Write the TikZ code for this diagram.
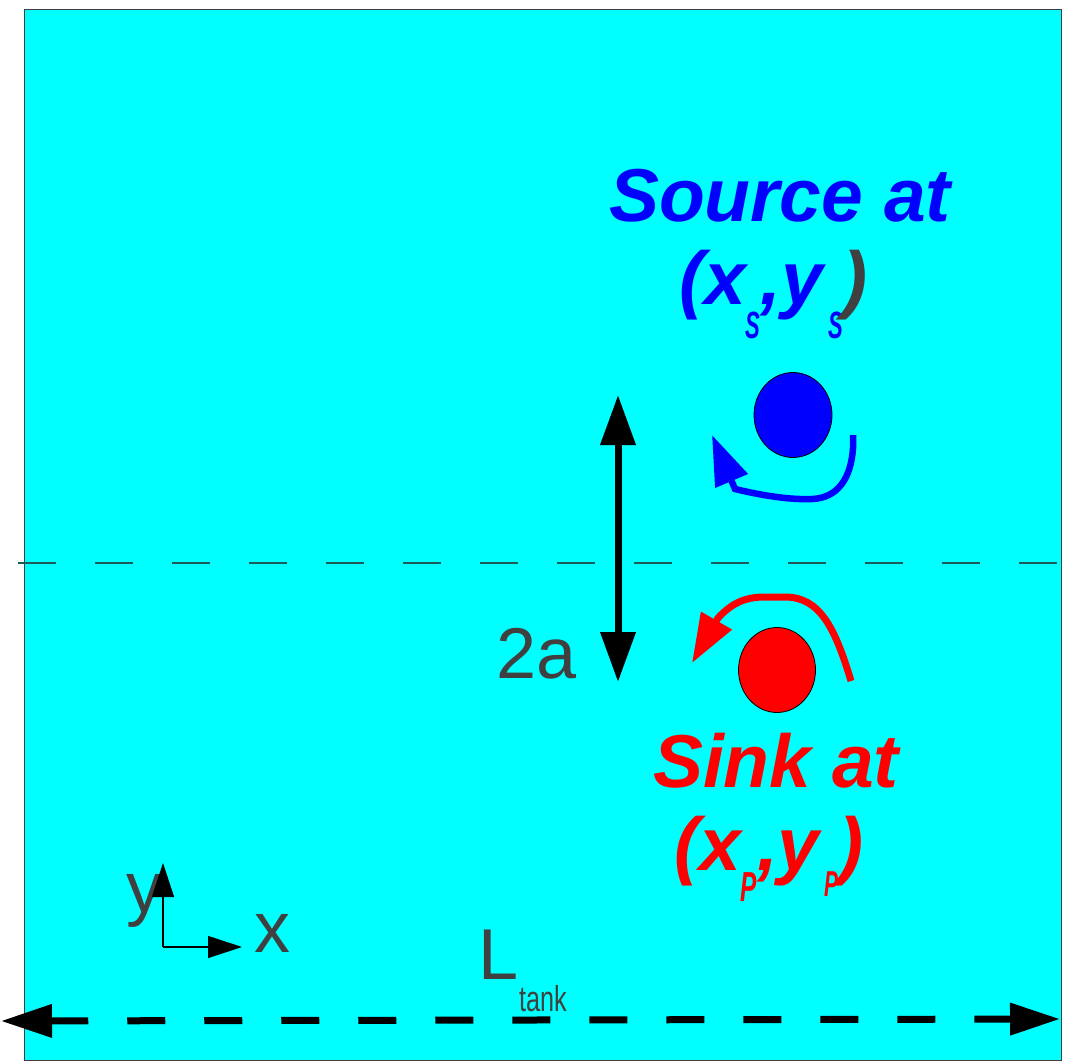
\documentclass[tikz,border=0pt]{standalone}
\usepackage{fontspec}
\setmainfont{Liberation Sans}
\usetikzlibrary{arrows.meta,shapes.geometric}
\definecolor{aqua}{RGB}{0,255,255}
\definecolor{txtgray}{RGB}{64,64,64}
\definecolor{dashteal}{RGB}{30,90,90}
\newcommand{\lowtxt}[3]{\raisebox{-#2pt}{\scalebox{0.58}[1]{\fontsize{#3}{#3}\selectfont\bfseries\itshape #1}}}
\tikzset{
  bigtxt/.style={inner sep=0pt, font=\fontsize{75}{75}\selectfont\bfseries\itshape},
  graytxt/.style={inner sep=0pt, text=txtgray, font=\fontsize{72}{72}\selectfont},
  blob/.style={ellipse, draw=black, line width=0.8pt, inner sep=0pt, minimum width=78pt, minimum height=85pt}
}
\begin{document}
\begin{tikzpicture}[x=1pt,y=-1pt]
\fill[white] (0,0) rectangle (1091,1064);
\useasboundingbox (0,0) rectangle (1091,1064);
% tank
\draw[fill=aqua, draw=txtgray, line width=1pt] (24,10) rectangle (1061,1060);
% centre dashed line
\coordinate (dL) at (18,563);
\coordinate (dR) at (1060,563);
\draw[dashteal, line width=1.2pt, dash pattern=on 38pt off 39pt] (dL) -- (dR);
% source and sink
\node[blob, fill=blue] (source) at (793,415) {};
\node[blob, fill=red, minimum width=77pt] (sink) at (777,670) {};
% texts
\node[bigtxt, text=blue, anchor=base] (srcT) at (780,222) {Source at};
\node[bigtxt, text=blue, anchor=base west] (srcC) at (679,305) {(x\lowtxt{S}{33}{38},y\kern5pt\lowtxt{S}{33}{38}\textcolor{txtgray}{)}};
\node[bigtxt, text=red, anchor=base] (snkT) at (776,787) {Sink at};
\node[bigtxt, text=red, anchor=base west] (snkC) at (674,870) {(x\lowtxt{P}{31}{42},y\kern5pt\lowtxt{P}{26}{36})};
\node[graytxt, anchor=base west] (twoA) at (496,678) {2a};
\node[graytxt, anchor=base west] (xlab) at (254,952) {x};
\node[graytxt, anchor=base west] (ylab) at (126,912) {y};
\node[graytxt, anchor=base west] (Llab) at (478,979) {L};
\node[inner sep=0pt, text=txtgray, anchor=base west] (tank) at (519,1011) {\scalebox{0.7}[1]{\fontsize{36}{36}\selectfont tank}};
% 2a arrow
\coordinate (aTop) at (618,395);
\coordinate (aBot) at (618,682);
\draw[line width=7pt, {Triangle[length=50pt,width=34pt]}-{Triangle[length=50pt,width=34pt]}] (aTop) -- (aBot);
% bottom L_tank arrow
\coordinate (bL) at (1,1021);
\coordinate (bR) at (1060,1019);
\draw[line width=7pt, dash pattern=on 38pt off 39pt, {Triangle[length=51pt,width=32pt]}-{Triangle[length=50pt,width=31pt]}] (bL) -- (bR);
% axes
\coordinate (orig) at (163,947);
\coordinate (yTip) at (163,863);
\coordinate (xTip) at (242,947);
\draw[line width=1.2pt, -{Triangle[length=34pt,width=22pt]}] (orig) -- (yTip);
\draw[line width=1.2pt, -{Triangle[length=34pt,width=22pt]}] (orig) -- (xTip);
% blue circulation arrow
\coordinate (bS) at (853,435);
\coordinate (bE) at (712,435);
\draw[blue, line width=6.5pt, -{Triangle[length=50pt,width=34pt]}] (bS) -- (853,448) .. controls (851,478) and (838,498) .. (812,499) .. controls (788,500) and (760,495) .. (735,489) -- (bE);
% red circulation arrow
\coordinate (rS) at (851,681);
\coordinate (rE) at (692,663);
\draw[red, line width=7pt, -{Triangle[length=49pt,width=34pt]}] (rS) .. controls (835,628) and (820,597) .. (785,597) -- (765,597) .. controls (745,597) and (732,603) .. (718,618) -- (rE);
\end{tikzpicture}
\end{document}
